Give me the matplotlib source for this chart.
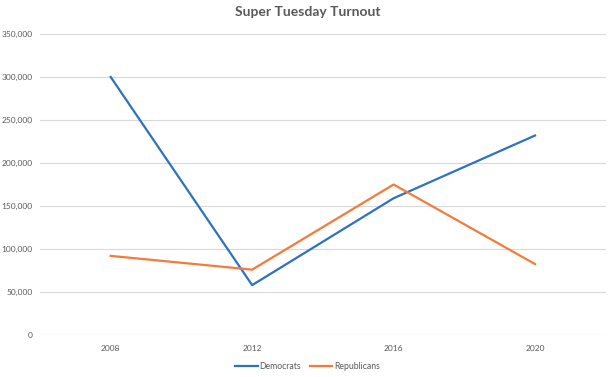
import matplotlib.pyplot as plt
from matplotlib.ticker import FuncFormatter

years = ["2008", "2012", "2016", "2020"]
democrats = [300000, 58000, 159000, 232000]
republicans = [92000, 76000, 175000, 82500]

plt.rcParams['font.family'] = ['Lato', 'DejaVu Sans']
txt = '#595959'

fig = plt.figure(figsize=(6.15, 3.77), dpi=100)
ax = fig.add_axes([0.065, 0.1114, 0.92, 0.7984])

x = range(len(years))
ax.plot(x, democrats, color='#2E72BE', lw=1.6, label='Democrats')
ax.plot(x, republicans, color='#F47B3A', lw=1.6, label='Republicans')

ax.set_xlim(-0.5, len(years) - 0.5)
ax.set_ylim(0, 350000)
ax.set_yticks(range(0, 350001, 50000))
ax.yaxis.set_major_formatter(FuncFormatter(lambda v, p: f"{int(v):,}"))
ax.set_xticks(list(x))
ax.set_xticklabels(years)
ax.tick_params(length=0, labelsize=6, labelcolor=txt)
ax.tick_params(axis='y', pad=5.5)
ax.tick_params(axis='x', pad=7)
ax.grid(axis='y', color='#D9D9D9', lw=0.8)
ax.set_axisbelow(True)
for s in ax.spines.values():
    s.set_visible(False)

fig.suptitle("Super Tuesday Turnout", y=0.985, fontsize=10, fontweight='bold', color=txt)
fig.legend(loc='center', bbox_to_anchor=(0.5, 0.027), ncol=2, frameon=False,
           fontsize=6.2, labelcolor=txt, handlelength=2.6, handletextpad=0.2,
           columnspacing=1.0)

fig.savefig("out.png", dpi=100, facecolor='white')
